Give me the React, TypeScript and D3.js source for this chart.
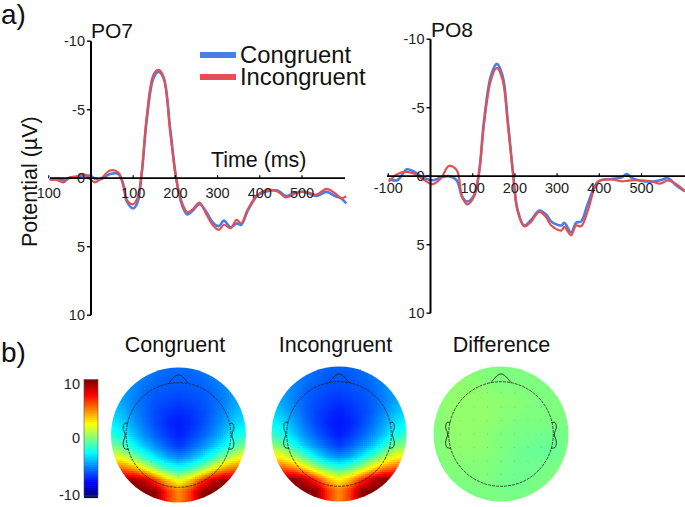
import React, { useMemo } from "react";
import * as d3 from "d3";

const FONT = "'Liberation Sans', Arial, sans-serif";

const po7Times = [-98,-82,-66,-50,-34,-18,0,10,25,45,65,77,85,100,110,120,132,148,160,172,188,202,216,228,240,257,272,288,303,315,331,345,356,371,395,418,442,462,482,506,534,558,578,594,605];
const po7Incongruent = [0.12,0.12,0.3,-0.05,-0.12,-0.3,0.12,0.3,0,-0.56,-0.41,0.6,1.6,1.9,1.46,-0.36,-4.5,-7.55,-7.9,-7.4,-3.3,0.12,1.8,2.48,2.3,1.78,2.55,3.4,3.77,3.4,3.65,3.04,3.3,2.3,1.2,0.85,0.97,1.4,1.15,0.97,1.2,0.78,1.1,1.46,1.3];
const po7Congruent = [0.1,0.05,0.15,-0.05,-0.1,-0.2,-0.15,0.05,0.05,-0.3,-0.3,0.5,1.7,2.2,1.8,-0.3,-4.2,-7.3,-7.75,-7.3,-3.5,0,2,2.65,2.4,1.9,2.4,3.2,3.5,3.1,3.6,3.3,3.4,2.4,1.25,0.95,0.9,1.3,1.05,1.0,1.3,1,1.3,1.5,1.85];

const po8Times = [-99,-79,-56,-40,-20,4,24,44,62,75,87,103,115,127,143,157,171,183,196,206,222,238,258,274,286,310,317,333,345,357,373,397,429,452,465,476,500,524,544,563,583,603];
const po8Incongruent = [0.41,-0.15,-0.32,-0.2,0.17,0.58,0.17,-0.75,-0.44,1.5,2.06,1.5,-0.2,-3.85,-7,-7.9,-7,-3.85,-0.07,2.5,3.66,3.33,2.6,3,3.6,3.97,3.7,4.3,3.6,3.65,2.5,0.41,0.24,0.37,0.34,0.3,0.3,0.37,0.54,0.3,0.6,1.1];
const po8Congruent = [0.2,0.3,-0.5,-0.35,0.05,0.3,0.1,0,0.3,1.5,1.85,1.4,-0.3,-4.1,-7.3,-8.2,-7.3,-4.1,-0.1,2.4,3.6,3.2,2.5,2.8,3.3,3.6,3.4,4.1,3.4,3.3,2,0.4,0.2,0.1,-0.15,0.1,0.35,0.4,0.3,0.15,0.7,1.1];

const yTicks = [-10, -5, 0, 5, 10];
const xTicks = [-100, 100, 200, 300, 400, 500];
const legendLabels = ["Congruent", "Incongruent"];
const topoTitles = ["Congruent", "Incongruent", "Difference"];
const barTicks = [10, 0, -10];

const congruentMap = [
  [-5.4,-5.4,-5.2,-5,-4.8,-4.4,-4.4],
  [-5.6,-5.6,-5.4,-5.1,-4.8,-4.4,-4.4],
  [-5.9,-5.8,-5.7,-5.4,-4.9,-4.4,-4.1],
  [-6.3,-6.1,-5.9,-5.5,-5,-4.3,-3.7],
  [-6.7,-6.5,-6.1,-5.5,-4.8,-3.9,-3.3],
  [-7,-6.7,-6.1,-5.3,-4.4,-3.3,-2.7],
  [-6.9,-6.4,-5.7,-4.8,-3.7,-2.4,-1.7],
  [-6.4,-5.7,-4.8,-3.7,-2.4,-0.7,0],
  [-4.8,-4.2,-3,-1.5,0.3,2,2.5],
  [-2,-1.2,0.3,2.5,4.5,5.5,5.5],
  [2,3.5,6,8.5,9.5,9,8],
  [4.8,6.5,9.5,10,10,10,9],
  [4.8,6.5,9.5,10,10,10,9],
];
const incongruentMap = [
  [-5.6,-5.6,-5.4,-5.2,-4.9,-4.4,-4.4],
  [-5.8,-5.8,-5.5,-5.2,-4.9,-4.4,-4.4],
  [-6.1,-6,-5.8,-5.5,-4.9,-4.4,-4.1],
  [-6.5,-6.3,-6,-5.6,-5,-4.3,-3.7],
  [-6.9,-6.6,-6.2,-5.6,-4.8,-3.9,-3.2],
  [-7.1,-6.8,-6.2,-5.3,-4.3,-3.1,-2.5],
  [-7,-6.5,-5.7,-4.8,-3.6,-2.2,-1.5],
  [-6.4,-5.7,-4.8,-3.7,-2.2,-0.5,0.2],
  [-4.8,-4.2,-2.9,-1.3,0.5,2.2,2.6],
  [-1.8,-1,0.5,2.7,4.7,5.6,5.5],
  [2.2,3.7,6.2,8.6,9.6,9,8],
  [4.8,6.5,9.6,10,10,10,9],
  [4.8,6.5,9.6,10,10,10,9],
];
const differenceMap = [
  [0,0,0,0,0,0,0,0,0],
  [0,0.3,0.3,0.2,0,0,0,0,0],
  [0,0.4,0.4,0.4,0.3,0.2,0,0,0],
  [0.1,0.4,0.4,0.4,0.2,0,0,0,0],
  [0,0.3,0.4,0.3,0,-0.1,-0.2,-0.3,-0.1],
  [0,0.3,0.3,0.2,0,-0.3,-0.5,-0.5,-0.1],
  [0,0.1,0.1,0.1,-0.1,-0.3,-0.3,-0.1,0],
  [-0.1,-0.1,0,0,-0.2,-0.3,-0.1,0,-0.1],
  [-0.2,-0.4,-0.3,-0.1,0,-0.1,0,-0.2,-0.3],
];
const electrodes = [
  [-0.4,-0.62],[-0.2,-0.62],[0,-0.62],[0.2,-0.62],[0.4,-0.62],
  [-0.6,-0.4],[-0.4,-0.4],[-0.2,-0.4],[0,-0.4],[0.2,-0.4],[0.4,-0.4],[0.6,-0.4],
  [-0.6,-0.2],[-0.4,-0.2],[-0.2,-0.2],[0,-0.2],[0.2,-0.2],[0.4,-0.2],[0.6,-0.2],
  [-0.6,0],[-0.4,0],[-0.2,0],[0,0],[0.2,0],[0.4,0],[0.6,0],
  [-0.6,0.2],[-0.4,0.2],[-0.2,0.2],[0,0.2],[0.2,0.2],[0.4,0.2],[0.6,0.2],
  [-0.6,0.4],[-0.4,0.4],[-0.2,0.4],[0,0.4],[0.2,0.4],[0.4,0.4],[0.6,0.4],
  [-0.4,0.6],[-0.2,0.6],[0,0.6],[0.2,0.6],[0.4,0.6],
];

const jet = d3.scaleLinear<string>()
  .domain([-10, -7.5, -2.5, 0, 2.5, 7.5, 10])
  .range(["#00007f", "#0000ff", "#00ffff", "#7fff7f", "#ffff00", "#ff0000", "#7f0000"])
  .clamp(true);

function Erp({ x0, xLeft, xRight, title, titleX, titleY, times, a, b, yTop, labelDy }: any) {
  const x = d3.scaleLinear().domain([0, 100]).range([x0, x0 + 42.2]);
  const y = d3.scaleLinear().domain([-10, 10]).range([yTop, yTop + 274]);
  const line = d3.line<number>().x((_, i) => x(times[i])).y((d) => y(d)).curve(d3.curveCatmullRom.alpha(0.5));
  return (
    <g fontFamily={FONT}>
      <path d={line(a) as string} fill="none" stroke="#4a7de6" strokeWidth={2.6} />
      <path d={line(b) as string} fill="none" stroke="#e64f52" strokeWidth={2.2} />
      <line x1={x0} x2={x0} y1={y(-10)} y2={y(10)} stroke="#000" strokeWidth={2} />
      <line x1={xLeft} x2={xRight} y1={y(0)} y2={y(0)} stroke="#000" strokeWidth={1.8} />
      {yTicks.map((t) => (
        <g key={t}>
          <line x1={x0 - 4} x2={x0} y1={y(t)} y2={y(t)} stroke="#000" strokeWidth={1.4} />
          <text x={x0 - 6} y={y(t) + 5} fontSize={14.5} textAnchor="end" fill="#222">{t}</text>
        </g>
      ))}
      {xTicks.map((t) => (
        <g key={t}>
          <line x1={x(t)} x2={x(t)} y1={y(0) - 3} y2={y(0)} stroke="#000" strokeWidth={1.2} />
          <text x={x(t)} y={y(0) + labelDy} fontSize={14.5} textAnchor="middle" fill="#222">{title === "PO7" ? Math.abs(t) : t}</text>
        </g>
      ))}
      <text x={titleX} y={titleY} fontSize={21} fill="#111">{title}</text>
    </g>
  );
}

function Topo({ cx, cy, r, values, mirror, id, title, titleX }: any) {
  const cells = useMemo(() => {
    const rows: number[][] = mirror
      ? values.map((row: number[]) => [...row.slice(1).reverse(), ...row])
      : values;
    const n = rows.length - 1;
    const m = rows[0].length - 1;
    const step = 2;
    const out: { x: number; y: number; c: string }[] = [];
    for (let py = -Math.ceil(r); py < r; py += step) {
      for (let px = -Math.ceil(r); px < r; px += step) {
        const u = Math.min(m, Math.max(0, ((px + 1 + r) / (2 * r)) * m));
        const v = Math.min(n, Math.max(0, ((py + 1 + r) / (2 * r)) * n));
        const i = Math.min(m - 1, Math.floor(u));
        const j = Math.min(n - 1, Math.floor(v));
        const top = d3.interpolateNumber(rows[j][i], rows[j][i + 1])(u - i);
        const bot = d3.interpolateNumber(rows[j + 1][i], rows[j + 1][i + 1])(u - i);
        out.push({ x: Math.round(cx + px), y: Math.round(cy + py), c: jet(d3.interpolateNumber(top, bot)(v - j)) });
      }
    }
    return out;
  }, []);
  const hr = r * 0.775;
  const outline = d3.line<number[]>().x((d) => cx + d[0] * r).y((d) => cy + d[1] * r).curve(d3.curveCatmullRom);
  const nose = [[-0.15, -0.76], [-0.05, -0.87], [0, -0.89], [0.05, -0.87], [0.15, -0.76]];
  const earL = [[-0.75, -0.17], [-0.8, -0.17], [-0.82, -0.1], [-0.79, 0], [-0.82, 0.12], [-0.8, 0.2], [-0.74, 0.21]];
  const earR = earL.map((p) => [-p[0], p[1]]);
  return (
    <g>
      <clipPath id={id}><circle cx={cx} cy={cy} r={r} /></clipPath>
      <g clipPath={`url(#${id})`}>
        {cells.map((c, i) => <rect key={i} x={c.x} y={c.y} width={2} height={2} fill={c.c} />)}
      </g>
      <circle cx={cx} cy={cy} r={hr} fill="none" stroke="#222" strokeWidth={0.8} strokeDasharray="3 1" />
      <path d={outline(nose) as string} fill="none" stroke="#222" strokeWidth={0.9} />
      <path d={outline(earL) as string} fill="none" stroke="#222" strokeWidth={0.9} />
      <path d={outline(earR) as string} fill="none" stroke="#222" strokeWidth={0.9} />
      {electrodes.map((p, i) => <circle key={i} cx={cx + p[0] * r} cy={cy + p[1] * r} r={0.4} fill="#333" opacity={0.45} />)}
      <text x={titleX} y={352} fontFamily={FONT} fontSize={21.5} textAnchor="middle" fill="#111">{title}</text>
    </g>
  );
}

export default function App() {
  const bar = d3.range(0, 58);
  const barY = d3.scaleLinear().domain([10, -10]).range([379.5, 495.5]);
  const legendY = [55, 77];
  const legendC = ["#4a7de6", "#e64f52"];
  const barDy = [9, 5, 4];
  return (
    <svg width={685} height={507} style={{ position: "absolute", left: 0, top: 0, background: "#fff" }}>
      <Erp x0={91} xLeft={50} xRight={345} title="PO7" titleX={91} titleY={38} times={po7Times} a={po7Congruent} b={po7Incongruent} yTop={41.2} labelDy={20} />
      <Erp x0={430.5} xLeft={387} xRight={685} title="PO8" titleX={431} titleY={37} times={po8Times} a={po8Congruent} b={po8Incongruent} yTop={39.2} labelDy={17} />
      <g fontFamily={FONT}>
        {legendLabels.map((l, i) => (
          <g key={l}>
            <line x1={200} x2={236} y1={legendY[i]} y2={legendY[i]} stroke={legendC[i]} strokeWidth={6} />
            <text x={240} y={legendY[i] + 8} fontSize={23.8} fill="#111">{l}</text>
          </g>
        ))}
        <text x={211} y={167} fontSize={21.4} fill="#111">Time (ms)</text>
        <text transform="translate(37,247) rotate(-90)" fontSize={21.5} fill="#111">Potential (µV)</text>
        <text x={1} y={24} fontSize={28} fill="#111">a)</text>
        <text x={1} y={362} fontSize={28} fill="#111">b)</text>
      </g>
      {bar.map((i) => {
        const v = 10 - (i * 20) / 57;
        return <rect key={i} x={84} y={barY(v)} width={14} height={2.6} fill={jet(v)} />;
      })}
      <rect x={84} y={379.5} width={14} height={116.5} fill="none" stroke="#555" strokeWidth={0.6} />
      {barTicks.map((t, i) => (
        <text key={t} x={80} y={barY(t) + barDy[i]} fontFamily={FONT} fontSize={14.5} textAnchor="end" fill="#222">{t}</text>
      ))}
      <Topo cx={178.5} cy={435} r={67.5} values={congruentMap} mirror id="c1" title={topoTitles[0]} titleX={175} />
      <Topo cx={339} cy={434} r={67.5} values={incongruentMap} mirror id="c2" title={topoTitles[1]} titleX={335.5} />
      <Topo cx={501} cy={434} r={67.5} values={differenceMap} id="c3" title={topoTitles[2]} titleX={501.5} />
    </svg>
  );
}
